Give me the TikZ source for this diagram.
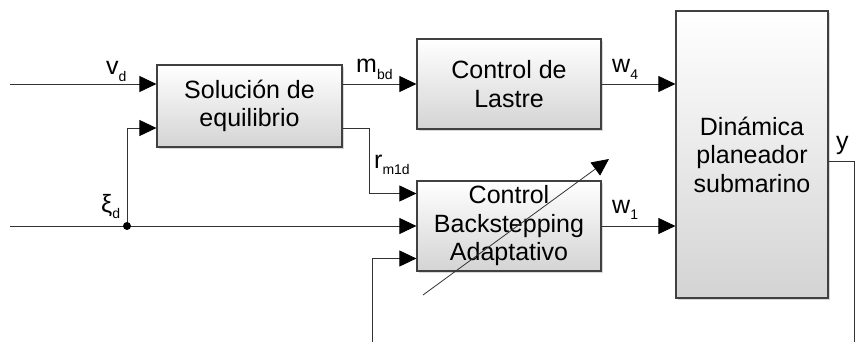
\documentclass[tikz,border=0pt]{standalone}
\usepackage{fontspec}
\setmainfont{Liberation Sans}
\usetikzlibrary{arrows.meta,shadows}

% signal name with a lowered index
\newcommand{\sig}[2]{#1\raisebox{-0.25em}{\fontsize{14}{14}\selectfont #2}}

\begin{document}
\begin{tikzpicture}[x=1pt,y=-1pt,
    block/.style={draw=black!75, line width=1.2pt, top color=white, bottom color=black!17,
        drop shadow={shadow xshift=2pt, shadow yshift=-2pt, fill=black!30},
        align=center, inner sep=0pt, font=\fontsize{25}{28.5}\selectfont},
    wire/.style={line width=0.8pt, draw=black!80, -{Triangle[length=17pt,width=16pt,color=black]}},
    lbl/.style={inner sep=0pt, anchor=base west, font=\fontsize{25}{25}\selectfont}]
    \useasboundingbox (0,0) rectangle (860,342);

    % Blocks
    \node[block, minimum width=185pt, minimum height=82pt] (sol) at (249.5,106) {Solución de\\equilibrio};
    \node[block, minimum width=184pt, minimum height=90pt] (lastre) at (509,84) {Control de\\Lastre};
    \node[block, minimum width=184pt, minimum height=90pt] (back) at (509,226) {Control\\Backstepping\\Adaptativo};
    \node[block, minimum width=152pt, minimum height=287pt] (dyn) at (752,154.5) {Dinámica\\planeador\\submarino};

    % Free ends
    \coordinate (vin) at (10,84);
    \coordinate (xin) at (10,226);
    \coordinate (jct) at (127,226);
    \coordinate (rin) at (372,342);
    \coordinate (yout) at (854,342);
    \coordinate (adpA) at (423,295);
    \coordinate (adpB) at (609,159);

    % Connections
    \draw[wire] (vin) -- ([yshift=22pt]sol.west);
    \draw[wire] (jct) |- ([yshift=-22pt]sol.west);
    \draw[wire] ([yshift=22pt]sol.east) -- ([yshift=22pt]sol.east -| lastre.west);
    \draw[wire] ([yshift=-22pt]sol.east) -- ++(27,0) |- ([yshift=32.5pt]back.west);
    \draw[wire] (xin) -- (back.west);
    \draw[wire] (rin) |- ([yshift=-32.5pt]back.west);
    \draw[wire] (lastre.east) -- (lastre.east -| dyn.west);
    \draw[wire] (back.east) -- (back.east -| dyn.west);
    \draw[line width=0.8pt, draw=black!80] ([yshift=-6.5pt]dyn.east) -| (yout);
    \fill (jct) circle (4pt);

    % Adaptation arrow
    \draw[wire] (adpA) -- (adpB);

    % Signal labels
    \node[lbl] (vlbl) at (106,75) {\sig{v}{d}};
    \node[lbl] (xlbl) at (101,212) {\sig{ξ}{d}};
    \node[lbl] (mlbl) at (356,73) {\sig{m}{bd}};
    \node[lbl] (rlbl) at (374,168) {\sig{r}{m1d}};
    \node[lbl] (w4lbl) at (612,73) {\sig{w}{4}};
    \node[lbl] (w1lbl) at (612,213) {\sig{w}{1}};
    \node[lbl] (ylbl) at (836,150) {y};
\end{tikzpicture}
\end{document}
